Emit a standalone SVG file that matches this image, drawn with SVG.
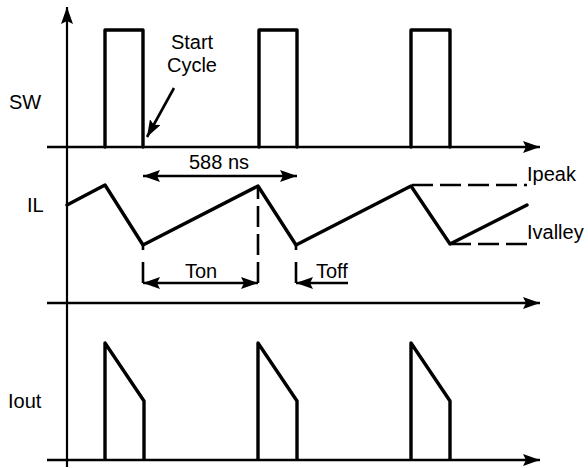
<svg xmlns="http://www.w3.org/2000/svg" width="588" height="468" viewBox="0 0 588 468">
<style>
.ax{stroke:#000;stroke-width:2.6;fill:none}
.vax{stroke:#000;stroke-width:2.2;fill:none}
.wf{stroke:#000;stroke-width:3.4;fill:none;stroke-linejoin:round;stroke-linecap:round}
.dim{stroke:#000;stroke-width:2.6;fill:none}
.dash{stroke:#000;stroke-width:2.6;fill:none;stroke-dasharray:21 7}
text{font-family:"Liberation Sans",Arial,sans-serif;font-size:20px;fill:#000}
</style>
<defs>
<marker id="ah" viewBox="0 0 17 12" refX="17" refY="6" markerWidth="17" markerHeight="12" markerUnits="userSpaceOnUse" orient="auto-start-reverse">
<path d="M0,0 L17,6 L0,12 L3,6 Z" fill="#000"/>
</marker>
</defs>
<g id="axes">
<line class="vax" x1="67" y1="467" x2="67" y2="7" marker-end="url(#ah)"/>
<line class="ax" x1="47" y1="147" x2="540" y2="147" marker-end="url(#ah)"/>
<line class="ax" x1="47" y1="303" x2="540" y2="303" marker-end="url(#ah)"/>
<line class="ax" x1="47" y1="460" x2="540" y2="460" marker-end="url(#ah)"/>
</g>
<g id="sw-wave">
<polyline class="wf" points="105,147 105,30 143,30 143,147"/>
<polyline class="wf" points="259,147 259,30 297,30 297,147"/>
<polyline class="wf" points="411,147 411,30 450,30 450,147"/>
</g>
<g id="il-wave">
<polyline class="wf" points="67,205 105,185 143,245 258,186 296,245 411,186 450,244 527,205"/>
</g>
<g id="iout-wave">
<polyline class="wf" points="105,459 105,343 144,401 144,459"/>
<polyline class="wf" points="258,459 258,343 297,401 297,459"/>
<polyline class="wf" points="411,459 411,343 450,401 450,459"/>
</g>
<g id="connectors">
<line class="dim" x1="174" y1="88" x2="147" y2="137" marker-end="url(#ah)"/>
<line class="dim" x1="143" y1="176" x2="297" y2="176" marker-start="url(#ah)" marker-end="url(#ah)"/>
<path class="dash" d="M143,283 V245" style="stroke-dasharray:21 12"/>
<path class="dash" d="M258,283 V186"/>
<path class="dash" d="M296,283 V245" style="stroke-dasharray:21 12"/>
<line class="dim" x1="143" y1="283" x2="258" y2="283" marker-start="url(#ah)" marker-end="url(#ah)"/>
<line class="dim" x1="348" y1="283" x2="296" y2="283" marker-end="url(#ah)"/>
<path class="dash" d="M412,185 H527"/>
<path class="dash" d="M450,244 H527"/>
</g>
<g id="labels">
<text x="9" y="109">SW</text>
<text x="27" y="212">IL</text>
<text x="8" y="408">Iout</text>
<text x="192" y="49" text-anchor="middle">Start</text>
<text x="192" y="72" text-anchor="middle">Cycle</text>
<text x="219" y="169" text-anchor="middle">588 ns</text>
<text x="201" y="278" text-anchor="middle">Ton</text>
<text x="316" y="278">Toff</text>
<text x="527" y="181">Ipeak</text>
<text x="527" y="239">Ivalley</text>
</g>
</svg>
